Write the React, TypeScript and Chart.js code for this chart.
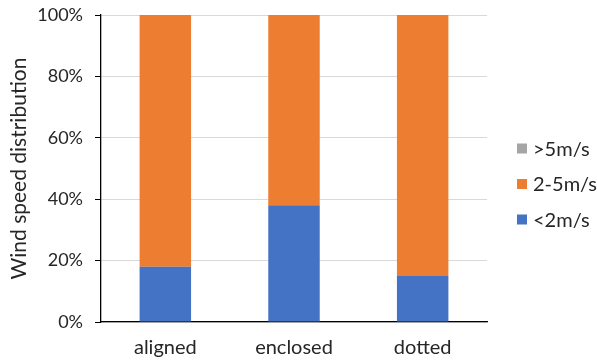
import React, { useEffect, useRef } from "react";
import { Chart, registerables } from "chart.js";

Chart.register(...registerables);

const categories = ["aligned", "enclosed", "dotted"];
const below2 = [18, 38, 15];
const between2and5 = [82, 62, 85];
const above5 = [0, 0, 0];
const seriesNames = ["<2m/s", "2-5m/s", ">5m/s"];
const seriesColors = ["#4472C4", "#ED7D31", "#A5A5A5"];
const yTicks = [0, 20, 40, 60, 80, 100];

const FONT = "Lato, 'Open Sans', sans-serif";
const TEXT = "#262626";

const sideLegend = {
  id: "sideLegend",
  afterDraw(chart: any) {
    const { ctx, chartArea } = chart;
    const items = chart.data.datasets.map((d: any) => ({ label: d.label, color: d.backgroundColor })).reverse();
    const x = chartArea.right + 30;
    const mid = chart.height / 2 + 4;
    const step = 35.5;
    ctx.save();
    ctx.font = `20px ${FONT}`;
    ctx.textBaseline = "middle";
    ctx.textAlign = "left";
    items.forEach((it: any, i: number) => {
      const cy = mid + (i - (items.length - 1) / 2) * step;
      ctx.fillStyle = it.color;
      ctx.fillRect(x, cy - 5, 10, 10);
      ctx.fillStyle = TEXT;
      ctx.fillText(it.label, x + 16, cy + 1);
    });
    ctx.restore();
  },
};

export default function App() {
  const ref = useRef<HTMLCanvasElement | null>(null);
  useEffect(() => {
    if (!ref.current) return;
    const chart = new Chart(ref.current, {
      type: "bar",
      data: {
        labels: categories,
        datasets: seriesNames.map((name, i) => ({
          label: name,
          data: [below2, between2and5, above5][i],
          backgroundColor: seriesColors[i],
          barPercentage: 0.8,
          categoryPercentage: 0.5,
        })),
      },
      options: {
        animation: false,
        responsive: false,
        maintainAspectRatio: false,
        layout: { padding: { top: 0, right: 110, left: 0, bottom: 0 } },
        plugins: {
          tooltip: { enabled: false },
          legend: { display: false },
        },
        scales: {
          x: {
            stacked: true,
            grid: { display: false, drawTicks: false },
            border: { color: "#000", width: 1.3 },
            ticks: { color: TEXT, font: { family: FONT, size: 20 }, padding: 14 },
            afterFit: (scale: any) => {
              scale.height = 38;
              scale.paddingLeft = 0;
              scale.paddingRight = 0;
            },
          },
          y: {
            stacked: true,
            min: 0,
            max: 100,
            afterBuildTicks: (axis: any) => {
              axis.ticks = yTicks.map((v) => ({ value: v }));
            },
            grid: { color: "#D9D9D9", tickColor: "#000", tickLength: 6, lineWidth: 1 },
            border: { color: "#000", width: 1.3 },
            ticks: {
              color: TEXT,
              font: { family: FONT, size: 18 },
              padding: 12,
              callback: (v: any) => v + "%",
            },
            title: {
              display: true,
              text: "Wind speed distribution",
              color: TEXT,
              font: { family: FONT, size: 21 },
              padding: { top: 7, bottom: 0 },
            },
            afterFit: (scale: any) => {
              scale.width = 101;
              scale.paddingTop = 15;
              scale.paddingBottom = 0;
            },
          },
        },
      },
      plugins: [sideLegend],
    });
    return () => chart.destroy();
  }, []);
  return (
    <div style={{ position: "fixed", left: 0, top: 0, width: 597, height: 360, background: "#fff" }}>
      <canvas ref={ref} width={597} height={360} style={{ width: 597, height: 360 }} />
    </div>
  );
}
